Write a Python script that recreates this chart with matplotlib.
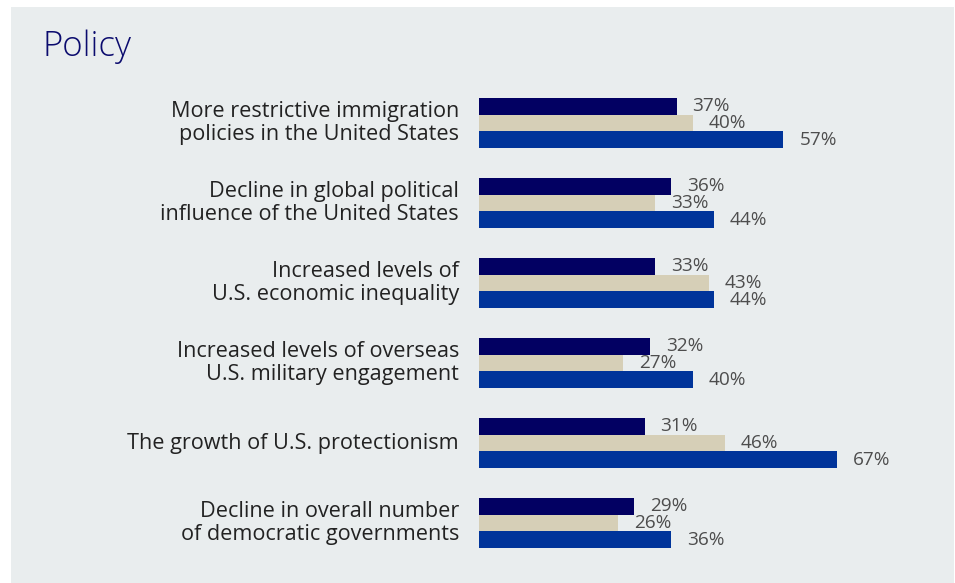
import matplotlib
matplotlib.use("Agg")
import matplotlib.pyplot as plt
from matplotlib.patches import Rectangle

plt.rcParams['font.family'] = ['Open Sans', 'DejaVu Sans']

categories = [
    "More restrictive immigration\npolicies in the United States",
    "Decline in global political\ninfluence of the United States",
    "Increased levels of\nU.S. economic inequality",
    "Increased levels of overseas\nU.S. military engagement",
    "The growth of U.S. protectionism",
    "Decline in overall number\nof democratic governments",
]
series_a = [37, 36, 33, 32, 31, 29]
series_b = [40, 33, 43, 27, 46, 26]
series_c = [57, 44, 44, 40, 67, 36]

colors = ["#020062", "#d6cfb7", "#00349a"]
panel_bg = "#e9edee"

W, H, DPI = 955, 583, 100
fig = plt.figure(figsize=(W / DPI, H / DPI), dpi=DPI)
fig.patch.set_facecolor("white")

# grey panel behind everything
fig.patches.append(Rectangle((11 / W, 0), (954 - 11) / W, (H - 7) / H,
                             transform=fig.transFigure, facecolor=panel_bg,
                             edgecolor="none", zorder=-5))

fig.text(42 / W, 1 - 47 / H, "Policy", fontsize=25, color="#0b0b6e",
         va="center", ha="left", fontweight="light")

# axes in pixel-like units: x in percent, y in pixels from the axes top
ax_left, ax_right = 479, 930
ax_top, ax_bot = 80, 570
ax = fig.add_axes([ax_left / W, 1 - ax_bot / H, (ax_right - ax_left) / W,
                   (ax_bot - ax_top) / H])
ax.set_zorder(2)
ax.set_facecolor("none")
px_per_pct = 5.34
ax.set_xlim(0, (ax_right - ax_left) / px_per_pct)
ax.set_ylim(ax_bot - ax_top, 0)

bar_h = 16.7
group_step = 80
first_center = 123 - ax_top

centers = [first_center + i * group_step for i in range(len(categories))]
for k, vals in enumerate([series_a, series_b, series_c]):
    ys = [c + (k - 1) * bar_h for c in centers]
    ax.barh(ys, vals, height=bar_h, color=colors[k], edgecolor="none")
    for y, v in zip(ys, vals):
        ax.text(v + 16 / px_per_pct, y, f"{v}%", va="center", ha="left",
                fontsize=13.7, color="#4d4d4d")

# category labels, right-aligned just left of the bars
for c, name in zip(centers, categories):
    ax.annotate(name, xy=(0, c), xycoords=("axes fraction", "data"),
                xytext=(-20, 0), textcoords="offset pixels",
                ha="right", va="center", multialignment="right",
                fontsize=15.6, color="#222222", linespacing=1.08,
                annotation_clip=False)

ax.set_yticks([])
ax.set_xticks([])
for s in ax.spines.values():
    s.set_visible(False)

fig.savefig("out.png", dpi=DPI, facecolor="white")
